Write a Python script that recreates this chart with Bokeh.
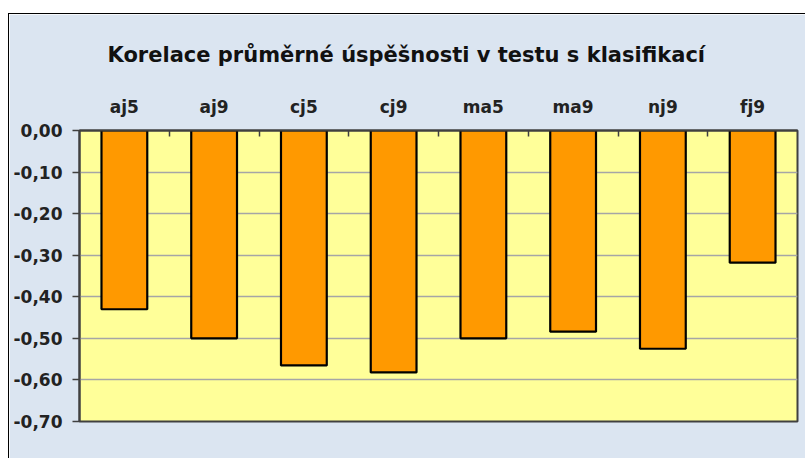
from bokeh.plotting import figure
from bokeh.models import Range1d, FixedTicker, LinearAxis, CustomJSTickFormatter, Spacer
from bokeh.layouts import column, row
from bokeh.embed import file_html
from bokeh.resources import INLINE

# ---- data ----
categories = ["aj5", "aj9", "cj5", "cj9", "ma5", "ma9", "nj9", "fj9"]
values = [-0.43, -0.50, -0.565, -0.582, -0.50, -0.484, -0.525, -0.318]
y_ticks = [0.0, -0.1, -0.2, -0.3, -0.4, -0.5, -0.6, -0.7]
title_text = "Korelace průměrné úspěšnosti v testu s klasifikací"

n = len(categories)
centers = [i + 0.5 for i in range(n)]
boundaries = [float(i) for i in range(1, n)]

BG = "#DBE5F1"
FONT = "DejaVu Sans"

p = figure(width=797, height=445, output_backend="svg", toolbar_location=None,
           x_range=Range1d(0, n), y_range=Range1d(min(y_ticks), max(y_ticks)),
           x_axis_location=None, y_axis_location=None,
           min_border_left=70, min_border_right=9, min_border_top=115, min_border_bottom=38)
p.styles = {"border-left": "1px solid black", "border-top": "1px solid black"}

p.background_fill_color = "#FFFF99"
p.border_fill_color = BG
p.outline_line_color = "#404040"
p.outline_line_width = 2

# title
p.title.text = title_text
p.title.align = "left"
p.title.offset = 28
p.title.text_font = FONT
p.title.text_font_size = "21px"
p.title.text_font_style = "bold"
p.title.text_color = "#111111"
p.title.standoff = 53

# bars
p.vbar(x=centers, top=0, bottom=values, width=0.51,
       fill_color="#FF9900", line_color="#000000", line_width=2.2)

# top category axis
xa = LinearAxis(ticker=FixedTicker(ticks=centers, minor_ticks=boundaries))
xa.major_label_overrides = {c: name for c, name in zip(centers, categories)}
xa.major_tick_line_color = None
xa.minor_tick_in = 6
xa.minor_tick_out = 0
xa.minor_tick_line_color = "#404040"
xa.minor_tick_line_width = 1.5
xa.axis_line_color = "#404040"
xa.axis_line_width = 2
xa.major_label_text_font = FONT
xa.major_label_text_font_size = "17px"
xa.major_label_text_font_style = "bold"
xa.major_label_text_color = "#222222"
xa.major_label_standoff = 8
p.add_layout(xa, "above")

# left value axis
ya = LinearAxis(ticker=FixedTicker(ticks=y_ticks, minor_ticks=[]))
ya.formatter = CustomJSTickFormatter(code="return tick.toFixed(2).replace('.', ',');")
ya.major_tick_in = 0
ya.major_tick_out = 7
ya.major_tick_line_color = "#404040"
ya.major_tick_line_width = 1.5
ya.axis_line_color = "#404040"
ya.axis_line_width = 2
ya.major_label_text_font = FONT
ya.major_label_text_font_size = "17px"
ya.major_label_text_font_style = "bold"
ya.major_label_text_color = "#222222"
ya.major_label_standoff = 10
p.add_layout(ya, "left")

p.xgrid.visible = False
p.ygrid.ticker = FixedTicker(ticks=y_ticks)
p.ygrid.grid_line_color = "#A6A6A6"
p.ygrid.grid_line_width = 1.5

layout = row(Spacer(width=8, height=459),
             column(Spacer(width=798, height=13), p, spacing=0),
             spacing=0)

open("out.html", "w").write(file_html(layout, INLINE))
